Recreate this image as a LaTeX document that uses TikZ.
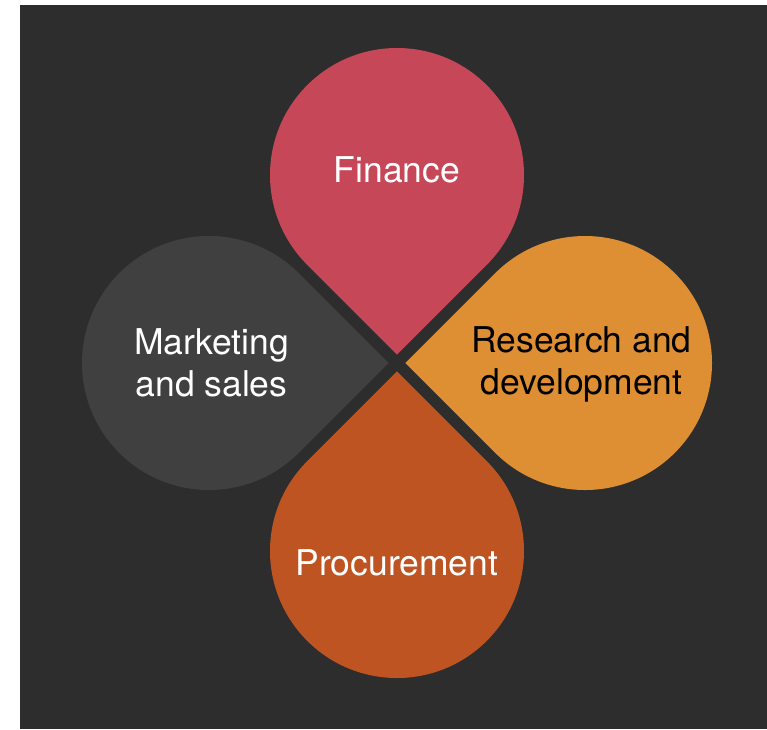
\documentclass[tikz,border=0pt]{standalone}
\usepackage{fontspec}
\setmainfont{TeX Gyre Heros}

\definecolor{bgdark}{HTML}{2D2D2D}
\definecolor{finred}{HTML}{C64758}
\definecolor{mktgray}{HTML}{404040}
\definecolor{rdorange}{HTML}{DE8F33}
\definecolor{procrust}{HTML}{BF5423}

\tikzset{
  petaltext/.style={inner sep=0pt, align=center, font=\fontsize{35.5}{42}\selectfont},
}

\begin{document}
\begin{tikzpicture}[x=1pt,y=1pt]
\useasboundingbox (-397,-366) rectangle (370,363);
\fill[bgdark] (-377,-366) rectangle (370,358);

% petals: circle r=127 at 188 from the middle, tip at 8.4
\foreach \ang/\col in {90/finred, 180/mktgray, 0/rdorange, 270/procrust}{
  \begin{scope}[rotate=\ang-90]
    \fill[\col] (0,8.4) -- (-89.8,98.2) arc[start angle=225, end angle=-45, radius=127] -- cycle;
  \end{scope}
}

   \node[petaltext, text=white] at (0,193)       (finance) {Finance};
   \node[petaltext, text=white] at (-185.5,0.5)  (mkt) {Marketing\\and sales};
   \node[petaltext, text=black] at (184.5,-1.5)  (rnd) {Research and\\development};
   \node[petaltext, text=white] at (0,-200)      (proc) {Procurement};

\end{tikzpicture}
\end{document}
